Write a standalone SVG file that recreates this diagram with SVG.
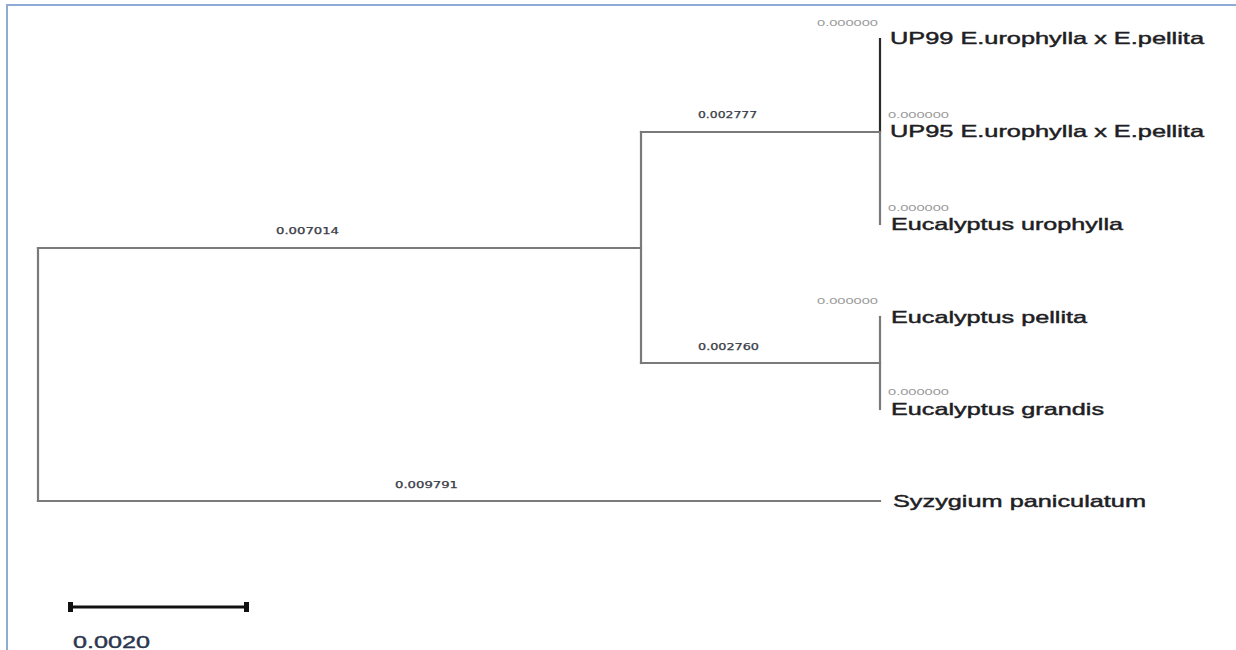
<svg xmlns="http://www.w3.org/2000/svg" width="1236" height="650" viewBox="0 0 1236 650">
<style>
.frame{fill:none;stroke:#8eaad6;stroke-width:2}
.br{fill:none;stroke:#7a7a7a;stroke-width:2.2;stroke-linecap:square}
.dk{fill:none;stroke:#2a2a2a;stroke-width:2.2}
.leaf{font-family:"Liberation Sans",Arial,sans-serif;font-size:17px;fill:#1e1e24;stroke:#1e1e24;stroke-width:0.45}
.zero{font-family:"Liberation Sans",Arial,sans-serif;font-size:9px;fill:#9a9a9a}
.bl{font-family:"DejaVu Sans","Liberation Sans",sans-serif;font-size:8.5px;fill:#3a3d48;stroke:#3a3d48;stroke-width:0.25}
.scale{font-family:"Liberation Sans",Arial,sans-serif;font-size:17px;fill:#2c3650;stroke:#2c3650;stroke-width:0.4}
</style>
<rect x="0" y="0" width="1236" height="650" fill="#ffffff"/>
<path class="frame" d="M7,650 V5 H1236"/>
<g id="connectors">
<path class="br" d="M38,248 V501"/>
<path class="br" d="M38,248 H641"/>
<path class="br" d="M38,501 H880"/>
<path class="br" d="M641,132 V363"/>
<path class="br" d="M641,132 H880"/>
<path class="br" d="M641,363 H880"/>
<path class="dk" d="M880,38 V132"/>
<path class="br" d="M880,132 V224"/>
<path class="br" d="M880,317 V409"/>
</g>
<g id="branch-labels">
<text class="bl" x="276" y="234" textLength="63" lengthAdjust="spacingAndGlyphs">0.007014</text>
<text class="bl" x="698" y="118" textLength="59" lengthAdjust="spacingAndGlyphs">0.002777</text>
<text class="bl" x="698" y="350" textLength="61" lengthAdjust="spacingAndGlyphs">0.002760</text>
<text class="bl" x="395" y="488" textLength="63" lengthAdjust="spacingAndGlyphs">0.009791</text>
</g>
<g id="leaf-up99">
<text class="zero" x="817" y="26" textLength="61" lengthAdjust="spacingAndGlyphs">0.000000</text>
<text class="leaf" x="890" y="44" textLength="314" lengthAdjust="spacingAndGlyphs">UP99 E.urophylla x E.pellita</text>
</g>
<g id="leaf-up95">
<text class="zero" x="888" y="118" textLength="61" lengthAdjust="spacingAndGlyphs">0.000000</text>
<text class="leaf" x="890" y="137" textLength="314" lengthAdjust="spacingAndGlyphs">UP95 E.urophylla x E.pellita</text>
</g>
<g id="leaf-urophylla">
<text class="zero" x="888" y="211" textLength="61" lengthAdjust="spacingAndGlyphs">0.000000</text>
<text class="leaf" x="891" y="230" textLength="232" lengthAdjust="spacingAndGlyphs">Eucalyptus urophylla</text>
</g>
<g id="leaf-pellita">
<text class="zero" x="817" y="304" textLength="61" lengthAdjust="spacingAndGlyphs">0.000000</text>
<text class="leaf" x="891" y="323" textLength="196" lengthAdjust="spacingAndGlyphs">Eucalyptus pellita</text>
</g>
<g id="leaf-grandis">
<text class="zero" x="888" y="395" textLength="61" lengthAdjust="spacingAndGlyphs">0.000000</text>
<text class="leaf" x="891" y="415" textLength="213" lengthAdjust="spacingAndGlyphs">Eucalyptus grandis</text>
</g>
<g id="leaf-syzygium">
<text class="leaf" x="893" y="507" textLength="253" lengthAdjust="spacingAndGlyphs">Syzygium paniculatum</text>
</g>
<g id="scale-bar">
<path d="M70,607 H247" stroke="#111" stroke-width="3" fill="none"/>
<rect x="68" y="602" width="5" height="10" fill="#111"/>
<rect x="244" y="602" width="5" height="10" fill="#111"/>
<text class="scale" x="73" y="648" textLength="77" lengthAdjust="spacingAndGlyphs">0.0020</text>
</g>
</svg>
